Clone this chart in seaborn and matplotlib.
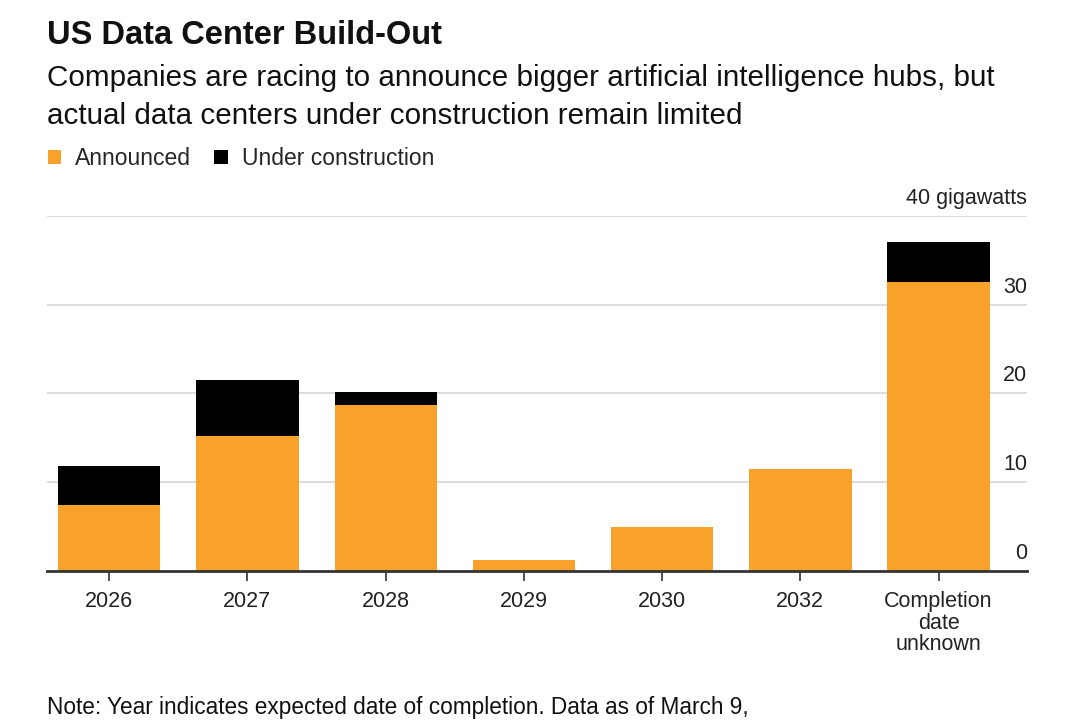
#!/usr/bin/env python3
import numpy as np
import pandas as pd
import matplotlib
matplotlib.use("Agg")
import matplotlib.pyplot as plt
import matplotlib.transforms as mtransforms
from matplotlib.patches import Patch
import seaborn as sns

# Data (gigawatts)
categories = ["2026", "2027", "2028", "2029", "2030", "2032",
              "Completion\ndate\nunknown"]
announced = [7.4, 15.2, 18.7, 1.2, 4.9, 11.5, 32.6]
under_construction = [4.4, 6.3, 1.5, 0.0, 0.0, 0.0, 4.5]
y_ticks = [0, 10, 20, 30, 40]

ORANGE = "#F8A12B"
BLACK = "#000000"
GRID = "#d6d6d6"

sns.set_theme(style="white")
plt.rcParams["font.family"] = ["Liberation Sans", "DejaVu Sans"]

df = pd.DataFrame({
    "category": categories,
    "announced": announced,
    "under_construction": under_construction,
})
df["total"] = df["announced"] + df["under_construction"]

fig = plt.figure(figsize=(10.8, 7.23), dpi=100)
ax = fig.add_axes([0.0435, 0.2107, 0.9075, 0.4905])

# stacked bars: total in black, announced in orange drawn over it
sns.barplot(data=df, x="category", y="total", color=BLACK, width=0.74,
            saturation=1, linewidth=0, ax=ax, zorder=3)
sns.barplot(data=df, x="category", y="announced", color=ORANGE, width=0.74,
            saturation=1, linewidth=0, ax=ax, zorder=4)

ax.set_xlim(-0.45, 6.64)
ax.set_ylim(0, 40)
ax.set_xlabel("")
ax.set_ylabel("")
for s in ["top", "right", "left"]:
    ax.spines[s].set_visible(False)
ax.spines["bottom"].set_color("#333333")
ax.spines["bottom"].set_linewidth(2)
ax.spines["bottom"].set_zorder(5)

# gridlines
for t in y_ticks[1:]:
    ax.axhline(t, color=GRID, lw=1.2, zorder=1)

# y labels sit above the gridlines at the right edge
ax.set_yticks([])
trans = mtransforms.blended_transform_factory(ax.transAxes, ax.transData)
off = mtransforms.offset_copy(trans, fig=fig, x=0, y=7, units="dots")
for t in y_ticks:
    label = f"{t} gigawatts" if t == y_ticks[-1] else str(t)
    ax.text(1.0, t, label, transform=off, ha="right", va="bottom",
            fontsize=15.5, color="#222222")

ax.tick_params(axis="x", which="both", bottom=True, length=7, width=1.2,
               color="#333333", labelsize=15.5, labelcolor="#222222", pad=8)
for lbl in ax.get_xticklabels():
    lbl.set_linespacing(1.03)

# titles
fig.text(0.0435, 0.951, "US Data Center Build-Out", fontsize=23.5,
         fontweight="bold", color="#111111", va="center")
fig.text(0.0435, 0.892,
         "Companies are racing to announce bigger artificial intelligence hubs, but",
         fontsize=21.3, color="#111111", va="center")
fig.text(0.0435, 0.8396,
         "actual data centers under construction remain limited",
         fontsize=21.3, color="#111111", va="center")

handles = [Patch(facecolor=ORANGE, edgecolor="none", label="Announced"),
           Patch(facecolor=BLACK, edgecolor="none", label="Under construction")]
fig.legend(handles=handles, loc="center left", bbox_to_anchor=(0.025, 0.7805),
           ncol=2, frameon=False, fontsize=16.5, handlelength=0.6,
           handleheight=0.6, handletextpad=0.6, columnspacing=1.0)

fig.text(0.0435, 0.022,
         "Note: Year indicates expected date of completion. Data as of March 9,",
         fontsize=16.3, color="#111111", va="center")

fig.savefig("out.png", dpi=100)
